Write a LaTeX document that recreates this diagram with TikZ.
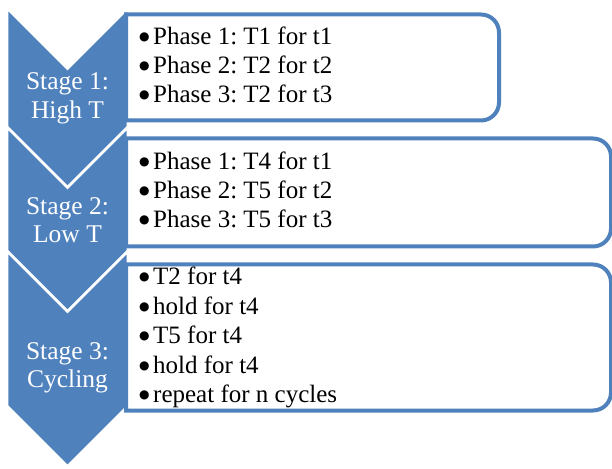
\documentclass[tikz,border=0pt]{standalone}
\usepackage{fontspec}
\setmainfont{Liberation Serif}
\newfontfamily\dvs{DejaVu Sans}
\definecolor{ofblue}{HTML}{4F81BD}
\newcommand{\bul}{\makebox[14pt][l]{\raisebox{4pt}{\fontsize{12}{12}\dvs ●}}}
\begin{document}
\frenchspacing
\begin{tikzpicture}[x=1pt,y=1pt,
  chev/.style={fill=ofblue,draw=white,line width=2.6pt,line join=miter},
  listbox/.style={fill=white,draw=ofblue,line width=4pt},
  stagetxt/.style={anchor=base,inner sep=0pt,text=white,font=\fontsize{25.5}{29}\selectfont},
  itemtxt/.style={anchor=base west,inner sep=0pt,text=black,font=\fontsize{25}{29}\selectfont\frenchspacing}]
\useasboundingbox (0,0) rectangle (612,468);
% chevrons
\draw[chev] (7,460) -- (67.5,399.5) -- (128,460) -- (128,341) -- (67.5,280.5) -- (7,341) -- cycle;
\draw[chev] (7,341) -- (67.5,280.5) -- (128,341) -- (128,217) -- (67.5,156.5) -- (7,217) -- cycle;
\draw[chev] (7,217) -- (67.5,156.5) -- (128,217) -- (128,62) -- (67.5,1.5) -- (7,62) -- cycle;
% boxes
\draw[listbox] (126,453.5) -- (481,453.5) arc[start angle=90,end angle=0,radius=18] -- (499,365.5) arc[start angle=0,end angle=-90,radius=18] -- (126,347.5) -- cycle;
\draw[listbox] (126,329.5) -- (593,329.5) arc[start angle=90,end angle=0,radius=18] -- (611,239.5) arc[start angle=0,end angle=-90,radius=18] -- (126,221.5) -- cycle;
\draw[listbox] (126,203.5) -- (593,203.5) arc[start angle=90,end angle=0,radius=18] -- (611,75.5) arc[start angle=0,end angle=-90,radius=18] -- (126,57.5) -- cycle;
% stage labels
\node[stagetxt] (s1a) at (67.5,378) {Stage 1:};
\node[stagetxt] (s1b) at (67.5,349.7) {High T};
\node[stagetxt] (s2a) at (67.5,253) {Stage 2:};
\node[stagetxt] (s2b) at (67.5,225) {Low T};
\node[stagetxt] (s3a) at (67.5,108) {Stage 3:};
\node[stagetxt] (s3b) at (67.5,80) {Cycling};
% items
\node[itemtxt] (a1) at (139,423) {\bul Phase 1: T1 for t1};
\node[itemtxt] (a2) at (139,394) {\bul Phase 2: T2 for t2};
\node[itemtxt] (a3) at (139,365) {\bul Phase 3: T2 for t3};
\node[itemtxt] (b1) at (139,298) {\bul Phase 1: T4 for t1};
\node[itemtxt] (b2) at (139,269) {\bul Phase 2: T5 for t2};
\node[itemtxt] (b3) at (139,240) {\bul Phase 3: T5 for t3};
\node[itemtxt] (c1) at (139,183) {\bul T2 for t4};
\node[itemtxt] (c2) at (139,153.5) {\bul hold for t4};
\node[itemtxt] (c3) at (139,124) {\bul T5 for t4};
\node[itemtxt] (c4) at (139,94.5) {\bul hold for t4};
\node[itemtxt] (c5) at (139,65) {\bul repeat for n cycles};
\end{tikzpicture}
\end{document}
